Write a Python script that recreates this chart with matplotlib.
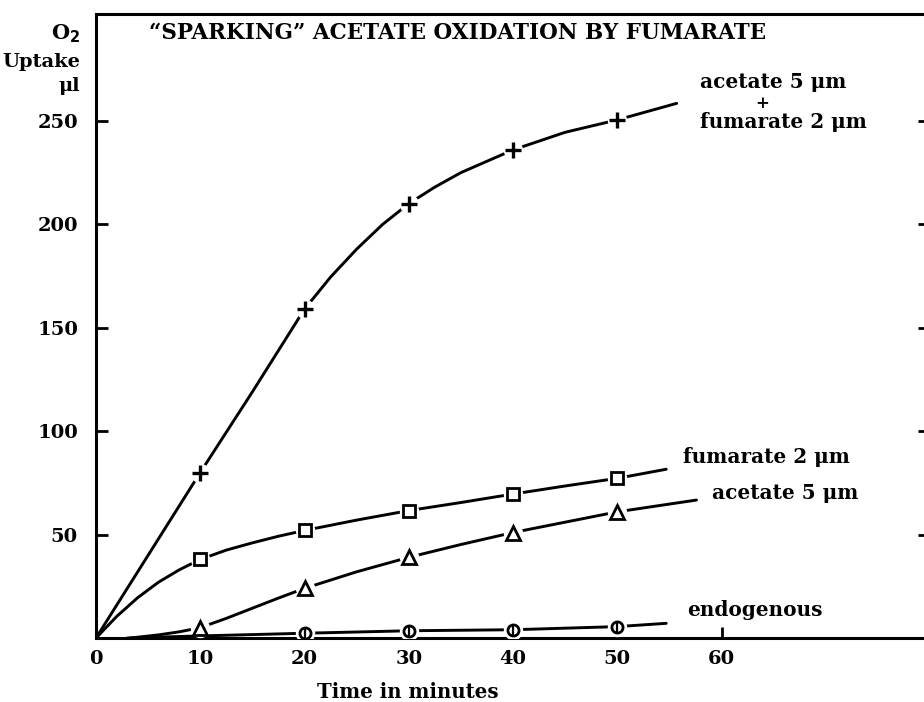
import matplotlib.pyplot as plt

# marker readings (minutes / O2 uptake in microlitres)
times = [10, 20, 30, 40, 50]
both_pts = [80, 159, 210, 236, 250.5]
fum_pts = [38, 52, 61.6, 69.6, 77.2]
ace_pts = [5, 24, 39, 51, 61]
endo_times = [20, 30, 40, 50]
endo_pts = [2.3, 3.5, 4, 5.5]

# drawn curves
both_x = [0, 5, 10, 12.5, 15, 17.5, 20, 22.5, 25, 27.5, 30, 32.5, 35, 40, 45, 50, 55.7]
both_y = [0, 40, 80, 99.5, 119, 139, 159, 174.5, 188, 200, 210, 218, 225, 236, 244.5, 250.5, 258.5]
fum_x = [0, 2, 4, 6, 8, 10, 12.5, 15, 17.5, 20, 25, 30, 35, 40, 45, 50, 54.7]
fum_y = [0, 10.5, 19.5, 27, 33, 38, 42.5, 46, 49.2, 52, 57, 61.6, 65.5, 69.6, 73.5, 77.2, 81.6]
ace_x = [3.3, 6, 8, 10, 12.5, 15, 17.5, 20, 25, 30, 35, 40, 45, 50, 57.6]
ace_y = [0, 1.5, 3, 5, 9.5, 14.4, 19.3, 24, 32, 39, 45.2, 51, 56, 61, 66.7]
endo_x = [3, 10, 20, 30, 40, 50, 54.7]
endo_y = [0, 1, 2.3, 3.5, 4, 5.5, 7.1]

xticks = [0, 10, 20, 30, 40, 50, 60]
yticks = [50, 100, 150, 200, 250]

plt.rcParams['font.family'] = ['DejaVu Serif']
plt.rcParams['font.weight'] = 'bold'

W, H = 924, 702
fig = plt.figure(figsize=(9.24, 7.02), dpi=100)
ax = fig.add_axes([96 / W, (H - 638) / H, (930 - 96) / W, (638 - 14) / H])
ax.set_xlim(0, 80)
ax.set_ylim(0, 301.7)

for s in ax.spines.values():
    s.set_linewidth(2.2)

lw = 2.1
ax.plot(both_x, both_y, color='black', lw=lw, solid_capstyle='round', solid_joinstyle='round')
ax.plot(fum_x, fum_y, color='black', lw=lw, solid_capstyle='round', solid_joinstyle='round')
ax.plot(ace_x, ace_y, color='black', lw=lw, solid_capstyle='round', solid_joinstyle='round')
ax.plot(endo_x, endo_y, color='black', lw=lw, solid_capstyle='round', solid_joinstyle='round')

# white gaps round each point, then the symbol
for xs, ys in [(times, both_pts), (times, fum_pts), (times, ace_pts), (endo_times, endo_pts)]:
    ax.plot(xs, ys, 'o', ms=14, mfc='white', mec='none', zorder=3)

ax.plot(times, both_pts, '+', ms=11, mew=2.4, color='black', zorder=4)
ax.plot(times, fum_pts, 's', ms=8, mew=2, mfc='white', mec='black', zorder=4)
ax.plot(times, ace_pts, '^', ms=10, mew=2, mfc='white', mec='black', zorder=4)
ax.plot(endo_times, endo_pts, 'o', ms=8, mew=2, mfc='white', mec='black', zorder=4)
ax.plot(endo_times, endo_pts, '|', ms=8, mew=1.6, color='black', zorder=5)

ax.set_xticks(xticks)
ax.set_yticks(yticks)
ax.tick_params(axis='x', direction='in', length=8, width=2, labelsize=14, pad=9)
ax.tick_params(axis='y', direction='in', length=8.6, width=2, labelsize=14, pad=13,
               right=True)

fig.text(458 / W, 1 - 33 / H, '\u201cSPARKING\u201d ACETATE OXIDATION BY FUMARATE',
         fontsize=15.5, ha='center', va='center')

fig.text(80 / W, 1 - 34 / H, 'O$_\\mathbf{2}$', fontsize=15, ha='right', va='center')
fig.text(80 / W, 1 - 62 / H, 'Uptake', fontsize=14, ha='right', va='center')
fig.text(80 / W, 1 - 86 / H, '\u03bcl', fontsize=14, ha='right', va='center')

fig.text(408 / W, 1 - 692 / H, 'Time in minutes', fontsize=14.2, ha='center', va='center')

fig.text(700 / W, 1 - 82 / H, 'acetate 5 \u03bcm', fontsize=14.4, ha='left', va='center')
fig.text(762 / W, 1 - 104 / H, '+', fontsize=12, ha='center', va='center')
fig.text(700 / W, 1 - 122 / H, 'fumarate 2 \u03bcm', fontsize=14.4, ha='left', va='center')
fig.text(683 / W, 1 - 457 / H, 'fumarate 2 \u03bcm', fontsize=14.4, ha='left', va='center')
fig.text(712 / W, 1 - 493 / H, 'acetate 5 \u03bcm', fontsize=14.4, ha='left', va='center')
fig.text(687 / W, 1 - 610 / H, 'endogenous', fontsize=14.4, ha='left', va='center')

fig.savefig('out.png', dpi=100)
